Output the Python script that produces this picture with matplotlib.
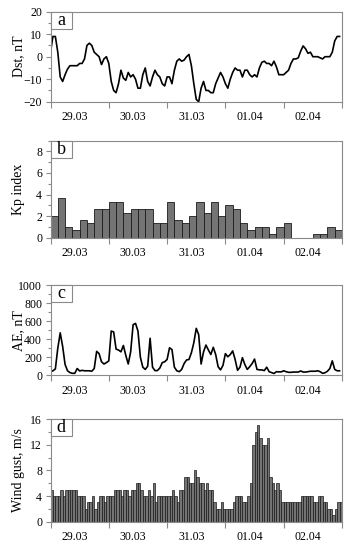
import numpy as np
import matplotlib
matplotlib.use('Agg')
import matplotlib.pyplot as plt
from matplotlib.patches import Rectangle
from matplotlib.ticker import MultipleLocator, FixedLocator

###########################
# Data
###########################

DAYS = ['29.03', '30.03', '31.03', '01.04', '02.04']

# hourly Dst, nT
dst = [2, 9, 9, 2, -9, -11, -8, -5.5, -4, -4, -4, -4, -3, -3, -1, 5, 6, 5, 2, 1,
       0, -3.5, -1, 0, -3, -11, -15, -16, -12, -6, -9.5, -10.5, -7, -9, -8, -10, -14, -14, -8, -5,
       -11, -13, -9, -6, -8, -9, -12, -13, -9, -9, -12, -6, -2, -1, -2, -1.5, 0, 1, -4, -12,
       -19, -20, -14, -11, -15, -15, -16, -16, -12, -9.5, -7, -9, -12, -14, -10, -7, -5, -6, -6, -9,
       -6, -6, -8, -9, -8, -9, -5, -2.5, -2, -3, -3, -4, -2, -4.5, -8, -8, -8, -7, -6, -3,
       -1, -1, -0.5, 2.5, 4.8, 3.5, 1.5, 2, 0, 0, 0, -0.5, -1, 0, 0, 0, 2, 7, 9, 9]

# 3-hourly Kp
kp = [2, 3.67, 1, 0.67, 1.67, 1.33, 2.67, 2.67, 3.33, 3.33,
      2.33, 2.67, 2.67, 2.67, 1.33, 1.33, 3.33, 1.67, 1.33, 2,
      3.33, 2.33, 3.33, 2, 3, 2.67, 1.33, 0.67, 1, 1,
      0.33, 1, 1.33, 0, 0, 0, 0.33, 0.33, 1, 0.67]

# hourly AE, nT
ae = [40, 50, 70, 300, 470, 320, 120, 50, 30, 22, 22, 75, 48, 55, 50, 50, 50, 45, 75, 265,
      240, 150, 125, 140, 160, 490, 480, 290, 280, 260, 330, 220, 125, 260, 560, 575, 490, 200, 90, 65,
      100, 410, 90, 52, 52, 80, 140, 150, 175, 305, 285, 90, 50, 40, 65, 130, 170, 175, 250, 360,
      520, 450, 125, 260, 335, 280, 230, 310, 230, 95, 60, 110, 240, 205, 230, 270, 175, 55, 90, 195,
      120, 65, 95, 130, 180, 65, 60, 60, 52, 90, 40, 30, 20, 40, 38, 38, 50, 40, 33, 33,
      36, 36, 36, 48, 36, 36, 40, 45, 45, 45, 50, 40, 22, 28, 45, 75, 160, 65, 50, 50]

# hourly wind gust, m/s
wind = [5, 4, 4, 4, 5, 4, 5, 5, 5, 5, 5, 4, 4, 4, 2, 3, 3, 4, 2, 3, 4, 4, 3, 4,
        4, 4, 5, 5, 5, 4, 5, 5, 4, 5, 5, 6, 6, 5, 4, 4, 5, 4, 6, 3, 4, 4, 4, 4,
        4, 4, 5, 4, 3, 5, 5, 7, 7, 6, 6, 8, 7, 6, 6, 5, 6, 5, 5, 3, 2, 2, 3, 2,
        2, 2, 2, 3, 4, 4, 4, 3, 3, 4, 6, 12, 14, 15, 13, 12, 12, 13, 7, 6, 5, 6, 5, 3,
        3, 3, 3, 3, 3, 3, 3, 4, 4, 4, 4, 4, 3, 3, 4, 4, 3, 3, 2, 2, 1, 2, 3, 3]

###########################
# Style
###########################

plt.rcParams.update({'font.family': ['Liberation Serif', 'DejaVu Serif'], 'font.size': 8.5})
FRAME = '#8a8a8a'
BAR_FACE = '#747474'

W, H = 354, 550
LEFT, RIGHT = 50.5, 342
# (top, bottom) in pixels for each panel
PANELS = [(11.7, 101.7), (140.5, 237.7), (285, 375.3), (419, 521.7)]
BOX_W, BOX_H = 21, 17  # letter box, pixels

fig = plt.figure(figsize=(W / 100, H / 100), dpi=100)
axes = []
for top, bottom in PANELS:
    ax = fig.add_axes([LEFT / W, 1 - bottom / H, (RIGHT - LEFT) / W, (bottom - top) / H])
    axes.append(ax)

hours = np.arange(len(dst))
ax_a, ax_b, ax_c, ax_d = axes

ax_a.plot(hours, dst, color='black', lw=1.2)
ax_a.set_ylim(-20, 20)
ax_a.yaxis.set_major_locator(MultipleLocator(10))
ax_a.yaxis.set_minor_locator(MultipleLocator(5))
ax_a.set_ylabel('Dst, nT', fontsize=10)

ax_b.bar(np.arange(len(kp)) * 3, kp, width=3, align='edge',
         color=BAR_FACE, edgecolor='#1a1a1a', lw=0.6)
ax_b.set_ylim(0, 9)
ax_b.yaxis.set_major_locator(MultipleLocator(2))
ax_b.yaxis.set_minor_locator(MultipleLocator(1))
ax_b.set_ylabel('Kp index', fontsize=10)

ax_c.plot(hours, ae, color='black', lw=1.2)
ax_c.set_ylim(0, 1000)
ax_c.yaxis.set_major_locator(MultipleLocator(200))
ax_c.yaxis.set_minor_locator(MultipleLocator(100))
ax_c.set_ylabel('AE, nT', fontsize=10)

ax_d.bar(np.arange(len(wind)), wind, width=1, align='edge',
         color=BAR_FACE, edgecolor='#1a1a1a', lw=0.5)
ax_d.set_ylim(0, 16)
ax_d.yaxis.set_major_locator(MultipleLocator(4))
ax_d.yaxis.set_minor_locator(MultipleLocator(2))
ax_d.set_ylabel('Wind gust, m/s', fontsize=10)

for ax, letter, (top, bottom) in zip(axes, 'abcd', PANELS):
    ax.set_xlim(0, 120)
    # day boundaries get ticks, day names sit in between
    ax.xaxis.set_major_locator(FixedLocator(np.arange(0, 121, 24)))
    ax.xaxis.set_minor_locator(FixedLocator(np.arange(len(DAYS)) * 24 + 10))
    ax.set_xticklabels([], minor=False)
    ax.set_xticklabels(DAYS, minor=True)
    ax.tick_params(axis='x', which='major', direction='out', length=4, width=0.8, color=FRAME)
    ax.tick_params(axis='x', which='minor', length=0, pad=7)
    ax.tick_params(axis='y', which='major', direction='out', length=3.6, width=0.8,
                   color=FRAME, pad=2.5)
    ax.tick_params(axis='y', which='minor', direction='out', length=2.2, width=0.8, color=FRAME)
    for sp in ax.spines.values():
        sp.set_color(FRAME)
        sp.set_linewidth(0.8)
    ax.yaxis.set_label_coords(-0.088, 0.5)

    # panel letter in a small framed box at the top-left corner
    bw = BOX_W / (RIGHT - LEFT)
    bh = BOX_H / (bottom - top)
    ax.add_patch(Rectangle((0, 1 - bh), bw, bh, transform=ax.transAxes, facecolor='white',
                           edgecolor=FRAME, lw=0.8, zorder=5, clip_on=False))
    ax.text(bw / 2, 1 - bh / 2, letter, transform=ax.transAxes, ha='center', va='center',
            fontsize=13, zorder=6)

plt.savefig('out.png', dpi=100)
